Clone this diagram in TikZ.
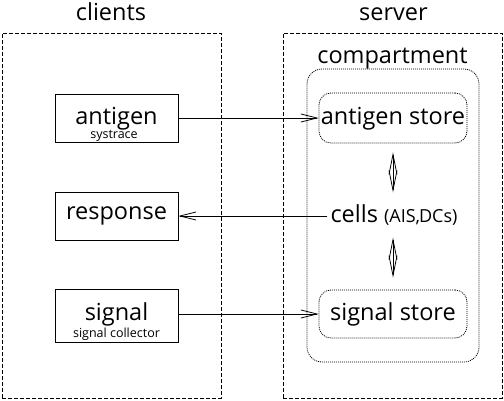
\documentclass[tikz,border=0pt]{standalone}
\usepackage{fontspec}
\setmainfont{Open Sans}
\usetikzlibrary{arrows.meta}
\begin{document}
\begin{tikzpicture}[x=1pt,y=-1pt,line width=0.8pt,
  big/.style={font=\fontsize{23.5}{26}\selectfont, inner sep=0pt, anchor=base},
  small/.style={font=\fontsize{12.5}{14}\selectfont, inner sep=0pt, anchor=base},
  region/.style={draw, dash pattern=on 4pt off 2pt, minimum width=219pt, minimum height=365pt, inner sep=0pt},
  compbox/.style={draw, dash pattern=on 1pt off 1pt, rounded corners=15pt, inner sep=0pt},
  storebox/.style={draw, dash pattern=on 1pt off 1pt, rounded corners=12pt, minimum width=148pt, inner sep=0pt},
  clientbox/.style={draw, minimum width=123pt, inner sep=0pt},
  harr/.style={-{Straight Barb[length=16pt, width=8pt]}},
  varr/.style={{Straight Barb[length=20pt, width=8pt]}-{Straight Barb[length=20pt, width=8pt]}}
]
\useasboundingbox (0,0) rectangle (504,400);
% regions
\node[region] (cl) at (111.5,215.5) {};
\node[region] (sv) at (392.5,215.5) {};
\node[big] (clt) at (111,20) {clients};
\node[big] (svt) at (393.5,20) {server};
% compartment
\node[compbox, minimum width=172pt, minimum height=293pt] (cp) at (393,215.5) {};
\node[big] (cpt) at (392.5,63) {compartment};
% stores
\node[storebox, minimum height=50pt] (as) at (393,118) {};
\node[big] (ast) at (393,124) {antigen store};
\node[storebox, minimum height=48pt] (ss) at (393,314) {};
\node[big] (sst) at (393,320) {signal store};
% cells
\node[inner sep=0pt, anchor=base] (cells) at (394,222) {\fontsize{23.5}{26}\selectfont cells \fontsize{18}{20}\selectfont(AIS,\kern-1pt DCs)};
% clients
\node[clientbox, minimum height=48pt] (ag) at (116.5,118) {};
\node[big] (agt) at (116.5,124) {antigen};
\node[small] (ags) at (114,138) {systrace};
\node[clientbox, minimum height=48pt] (rs) at (116.5,216) {};
\node[big] (rst) at (116.5,219) {response};
\node[clientbox, minimum height=53pt] (sg) at (116.5,315.5) {};
\node[big] (sgt) at (116.5,320) {signal};
\node[small] (sgs) at (116.5,337) {signal collector};
% connectors
\draw[harr] (ag.east |- as.west) -- (as.west);
\draw[harr, shorten <=3pt] (cells.west |- rs.east) -- (rs.east);
\draw[harr] (sg.east |- ss.west) -- (ss.west);
\draw[varr] ([yshift=-9pt]as.south) -- ([yshift=-49pt]as.south);
\draw[varr] ([yshift=52pt]ss.north) -- ([yshift=12pt]ss.north);
\end{tikzpicture}
\end{document}
